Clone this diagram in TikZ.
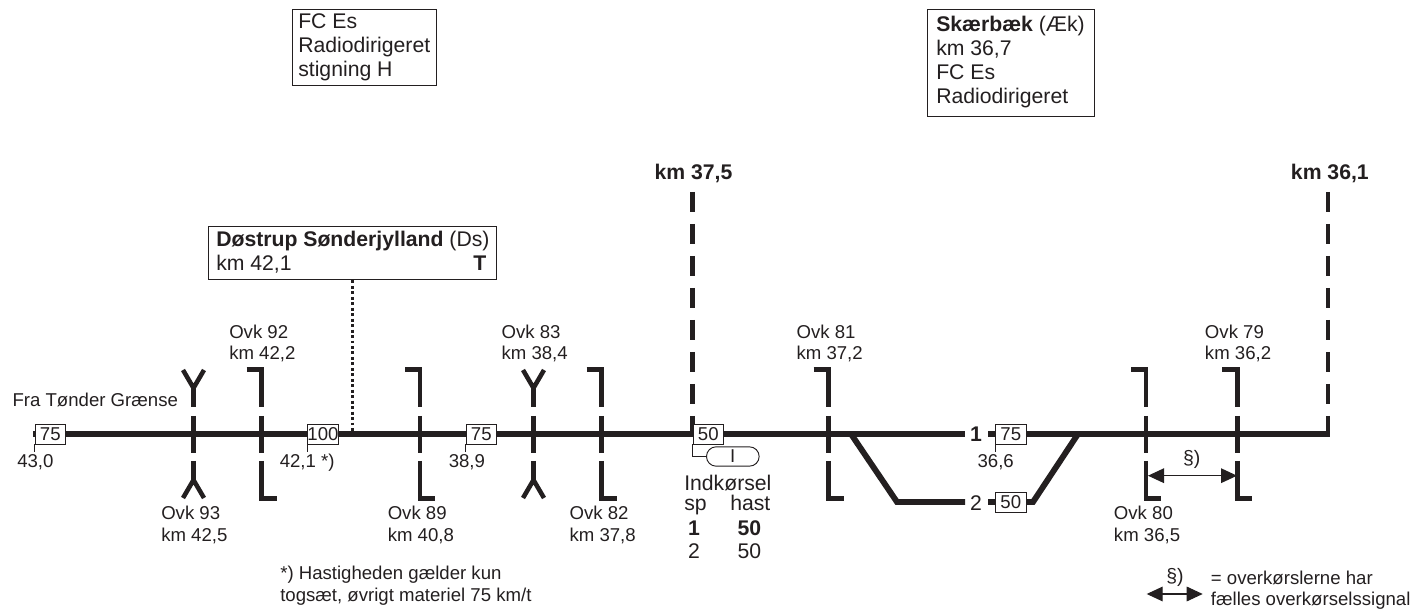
\documentclass[tikz,border=0pt]{standalone}
\usepackage{fontspec}
\setmainfont{Liberation Sans}
\usepackage{xcolor}
\definecolor{ink}{RGB}{35,31,32}
\usetikzlibrary{positioning,arrows.meta,shapes.misc,calc}
\begin{document}
\begin{tikzpicture}[x=0.75pt, y=-0.75pt, ink, text=ink,
    lbl/.style={inner sep=0pt, anchor=base west, align=left, font=\fontsize{13.95}{16.2}\selectfont},
    big/.style={inner sep=0pt, anchor=base west, align=left, font=\fontsize{15.9}{18}\selectfont},
    infobox/.style={draw=ink, line width=0.8pt, fill=white, anchor=north west, inner sep=0pt},
    speed/.style={draw=ink, line width=0.7pt, fill=white, anchor=west, inner sep=0pt, minimum width=23pt, minimum height=15pt, font=\fontsize{13.95}{16}\selectfont},
    track/.style={line width=4.4pt},
    sig/.style={line width=3.4pt},
    pole/.style={line width=3.6pt, dash pattern=on 15pt off 9pt},
    hair/.style={line width=0.7pt},
    span/.style={line width=0.8pt, {Triangle[length=12pt,width=11pt]}-{Triangle[length=12pt,width=11pt]}}]
\useasboundingbox (0,0) rectangle (1414,609);
\draw[pole] (692.5,192) -- (692.5,434);
\draw[pole] (1328,192) -- (1328,434);
\draw[track] (33,434) -- (965,434);
\draw[track] (988,434) -- (1330,434);
\draw[track, line join=miter] (851,434) -- (897,502) -- (965,502);
\draw[track, line join=miter] (988,502) -- (1033,502) -- (1078,434);
\foreach \x in {261.5,420,601.7,828.7,1146,1237.3} {
  \draw[sig] (\x-15,369.5) -- (\x,369.5) -- (\x,407);
  \draw[sig] (\x,416) -- (\x,453);
  \draw[sig] (\x,461) -- (\x,498.5) -- (\x+15,498.5);
}
\foreach \x in {193.5,533.5} {
  \draw[sig] (\x-10.5,370) -- (\x,388) -- (\x+10.5,370);
  \draw[sig] (\x,388) -- (\x,407);
  \draw[sig] (\x,416) -- (\x,453);
  \draw[sig] (\x,461) -- (\x,480);
  \draw[sig] (\x-10.5,498) -- (\x,480) -- (\x+10.5,498);
}
\node[speed] (v75a) at (34.5,434) {75};
\node[speed] (v100) at (307,434) {100};
\node[speed] (v75b) at (465.5,434) {75};
\node[speed] (v50) at (692.5,434) {50};
\node[speed] (v75c) at (995,434) {75};
\node[speed] (v50b) at (995,502) {50};
\draw[hair] (v75a.south west) -- ++(0,8);
\draw[hair] (v100.south west) -- ++(0,8);
\draw[hair] (v75b.south west) -- ++(0,8);
\draw[hair] (v75c.south west) -- ++(0,8);
\node[rounded rectangle, draw=ink, line width=0.7pt, inner sep=0pt, minimum width=39.5pt, minimum height=14.5pt, anchor=west, font=\fontsize{13.95}{16}\selectfont] (ind) at (706,456.5) {I};
\draw[hair] (v50.south west) |- (ind.west);
\node[infobox, minimum width=108pt, minimum height=57pt] (fcbox) at (291.7,9.3) {};
\node[big] (fctxt) at (298,76.7) {FC Es\\Radiodirigeret\\stigning H};
\node[infobox, minimum width=125.2pt, minimum height=80pt] (skbox) at (926.7,9.3) {};
\node[big] (sktxt) at (936,104) {\textbf{Skærbæk} (Æk)\\km 36,7\\FC Es\\Radiodirigeret};
\node[infobox, minimum width=216pt, minimum height=40pt] (ds) at (208.3,226) {};
\node[big] (dstxt) at (216,270.7) {\textbf{Døstrup Sønderjylland} (Ds)\\km 42,1};
\node[big, anchor=base east] (dsT) at (486.7,270.7) {\textbf{T}};
\coordinate (dsfoot) at (352.3,431);
\draw[line width=1.9pt, dash pattern=on 2.2pt off 1.9pt] (ds.south -| dsfoot) -- (dsfoot);
\node[big] (k375) at (654.3,180) {\textbf{km 37,5}};
\node[big] (k361) at (1290.7,180) {\textbf{km 36,1}};
\node[lbl] (fra) at (12.3,406.7) {Fra Tønder Grænse};
\node[lbl] (a430) at (17,467.7) {43,0};
\node[lbl] (a421) at (279.5,467.7) {42,1 *)};
\node[lbl] (a389) at (448.5,467.7) {38,9};
\node[lbl] (a366) at (977.3,467.7) {36,6};
\node[lbl] (o92) at (229,360) {Ovk 92\\km 42,2};
\node[lbl] (o83) at (501.3,360) {Ovk 83\\km 38,4};
\node[lbl] (o81) at (796.3,360) {Ovk 81\\km 37,2};
\node[lbl] (o79) at (1204.7,360) {Ovk 79\\km 36,2};
\node[lbl] (o93) at (161,541.5) {Ovk 93\\km 42,5};
\node[lbl] (o89) at (387.5,541.5) {Ovk 89\\km 40,8};
\node[lbl] (o82) at (569.3,541.5) {Ovk 82\\km 37,8};
\node[lbl] (o80) at (1113.7,541.5) {Ovk 80\\km 36,5};
\node[lbl] (note) at (280,601) {*) Hastigheden gælder kun\\togsæt, øvrigt materiel 75 km/t};
\node[big] (indk) at (684,490.7) {Indkørsel};
\node[big] (sp) at (684,510.7) {sp};
\node[big] (hast) at (730,510.7) {hast};
\node[big, anchor=base] (sp1) at (694,535) {\textbf{1}};
\node[big, anchor=base] (h1) at (749.3,535) {\textbf{50}};
\node[big, anchor=base] (sp2) at (694,558) {2};
\node[big, anchor=base] (h2) at (749.3,558) {50};
\node[big, anchor=base] (t1) at (976,442) {\textbf{1}};
\node[big, anchor=base] (t2) at (976,510) {2};
\coordinate (pa) at (1148,475.7);
\coordinate (pb) at (1237,475.7);
\draw[span] (pa) -- (pb);
\node[lbl, anchor=base, font=\fontsize{14.6}{16}\selectfont] (par) at (1191.7,464.5) {§)};
\coordinate (qa) at (1146.7,594);
\coordinate (qb) at (1202.7,594);
\draw[span] (qa) -- (qb);
\node[lbl, anchor=base, font=\fontsize{14.6}{16}\selectfont] (qar) at (1175,582) {§)};
\node[lbl] (leg) at (1210.7,605.7) {= overkørslerne har\\fælles overkørselssignal};
\end{tikzpicture}
\end{document}
